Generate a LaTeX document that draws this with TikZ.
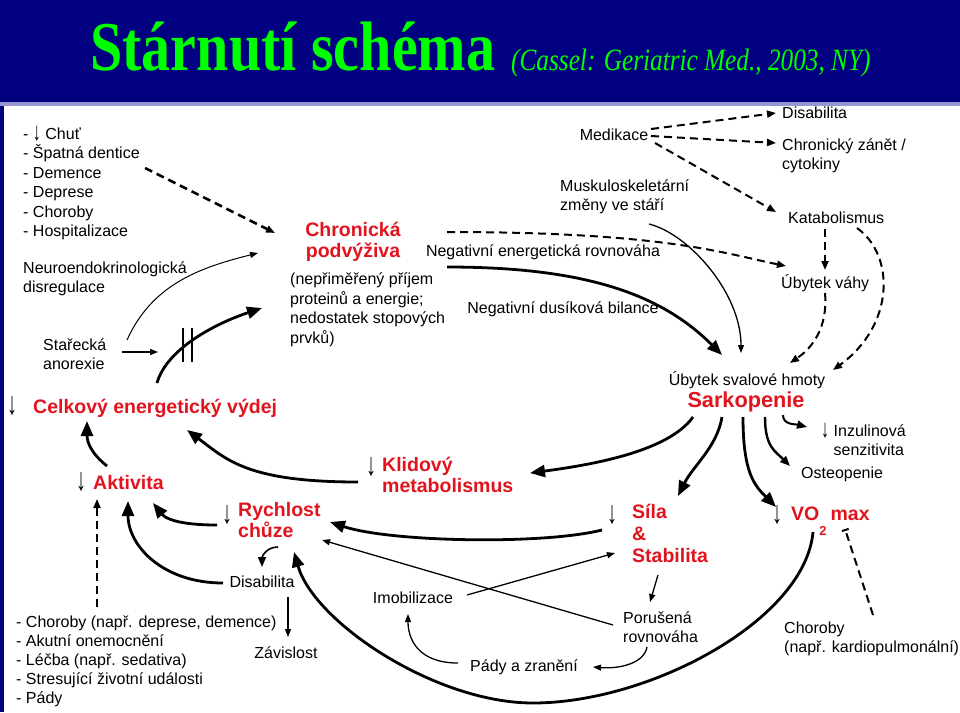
\documentclass[tikz,border=0pt]{standalone}
\usepackage{fontspec}
\setmainfont{Liberation Sans}
\newfontfamily\titlefont{Liberation Serif}
\usepackage{graphicx}
\usetikzlibrary{arrows.meta,positioning,calc}

\definecolor{barblue}{RGB}{0,0,128}
\definecolor{barline}{RGB}{150,150,210}
\definecolor{titlegreen}{RGB}{0,255,0}
\definecolor{labred}{RGB}{225,20,30}

\newcommand{\fsz}[2]{\fontsize{#1}{#2}\selectfont}
\newcommand{\darr}{\raisebox{-1pt}{\scalebox{1}[1.6]{↓}}}

\begin{document}
\begin{tikzpicture}[
  x=1pt,y=-1pt,
  txt/.style={font=\fsz{16}{19.5},inner sep=1pt,align=left},
  lab/.style={font=\bfseries\fsz{19.5}{21},text=labred,inner sep=1pt,align=left},
  dn/.style={font=\fsz{20}{20},inner sep=0pt},
  thkarr/.style={-{Triangle[length=15pt,width=12pt]},line width=2.8pt},
  medarr/.style={-{Triangle[length=10pt,width=8pt]},line width=2pt},
  thnarr/.style={-{Triangle[length=8pt,width=6pt]},line width=1.3pt},
  dasharr/.style={-{Triangle[length=9pt,width=7pt]},line width=2pt,dash pattern=on 8pt off 5pt}
]
\useasboundingbox (0,0) rectangle (960,712);
% frame and title bar
\fill[barblue] (0,0) rectangle (960,712);
\fill[barline] (0,102) rectangle (960,106);
\fill[white] (4,106) rectangle (960,712);
\node[anchor=base west,inner sep=0pt,text=titlegreen] (title) at (90,70)
  {\titlefont\bfseries\fsz{70}{70}\scalebox{0.83}[1]{Stárnutí schéma}};
\node[anchor=base west,inner sep=0pt,text=titlegreen] (cite) at (511,70)
  {\titlefont\itshape\fsz{31}{31}\scalebox{0.815}[1]{(Cassel: Geriatric Med., 2003, NY)}};

% left column
\node[txt,anchor=west] (causes) at (22,183) {- \darr\ Chuť\\- Špatná dentice\\- Demence\\- Deprese\\- Choroby\\- Hospitalizace};
\node[txt,anchor=west] (neuro) at (22,279) {Neuroendokrinologická\\disregulace};
\node[txt,anchor=west] (anorex) at (42,354) {Stařecká\\anorexie};
\node[inner sep=0pt,minimum width=9pt,minimum height=33pt] (brk) at (187.5,345) {};
\node[lab,anchor=base west] (celk) at (32,413) {Celkový energetický výdej};
\node[dn] (celkdn) at (12,406) {\darr};
\node[lab,anchor=base west] (akt) at (92,489) {Aktivita};
\node[dn] (aktdn) at (81,482) {\darr};
\node[lab,anchor=west] (rych) at (237,520) {Rychlost\\chůze};
\node[dn] (rychdn) at (227,515) {\darr};
\node[txt,anchor=base] (disab) at (262,587) {Disabilita};
\node[txt,anchor=base] (zavis) at (286,658) {Závislost};
\node[txt,anchor=west,font=\fsz{16}{19}] (aktcauses) at (15,661) {- Choroby (např. deprese, demence)\\- Akutní onemocnění\\- Léčba (např. sedativa)\\- Stresující životní události\\- Pády};

% centre
\node[lab,align=center] (podv) at (353,242) {Chronická\\podvýživa};
\node[txt,anchor=west] (pdesc) at (289,310) {(nepřiměřený příjem\\proteinů a energie;\\nedostatek stopových\\prvků)};
\node[txt,anchor=base] (negen) at (543,256) {Negativní energetická rovnováha};
\node[txt,anchor=base] (negdus) at (563,313) {Negativní dusíková bilance};
\node[lab,anchor=west] (klid) at (381,475) {Klidový\\metabolismus};
\node[dn] (kliddn) at (371,467) {\darr};
\node[txt,anchor=base] (imob) at (413,603) {Imobilizace};
\node[txt,anchor=base] (pady) at (524,671) {Pády a zranění};
\node[lab,anchor=west,font=\bfseries\fsz{19.5}{22}] (sila) at (631,533) {Síla\\\&\\Stabilita};
\node[dn] (siladn) at (612,515) {\darr};
\node[txt,anchor=west] (porus) at (622,627) {Porušená\\rovnováha};

% right column
\node[txt,anchor=base] (medik) at (614,140) {Medikace};
\node[txt,anchor=base west] (disabtop) at (781,118) {Disabilita};
\node[txt,anchor=west] (zanet) at (781,156) {Chronický zánět /\\cytokiny};
\node[txt,anchor=west] (musk) at (559,197) {Muskuloskeletární\\změny ve stáří};
\node[txt,anchor=base west] (katab) at (787,223) {Katabolismus};
\node[txt,anchor=base west] (ubvah) at (780,288) {Úbytek váhy};
\node[txt,anchor=base] (ubsv) at (747,385) {Úbytek svalové hmoty};
\node[lab,anchor=base,font=\bfseries\fsz{21.7}{22}] (sark) at (746,407) {Sarkopenie};
\node[txt,anchor=west,font=\fsz{16}{18.5}] (inzul) at (820,440) {\darr\ Inzulinová\\\phantom{\darr\ }senzitivita};
\node[txt,anchor=base west] (osteo) at (800,478) {Osteopenie};
\node[lab,anchor=base west] (vo2) at (790,520) {VO\raisebox{-15pt}{\fsz{13}{13}2}\hspace{4pt}max};
\node[dn] (vo2dn) at (777,515) {\darr};
\node[txt,anchor=west] (chvo) at (783,639) {Choroby\\(např. kardiopulmonální)};

% malnutrition loop
\draw[dasharr,line width=2.5pt] ([shift={(123,-15)}]causes.west) -- ([shift={(-78,-9)}]podv.center);
\draw[thnarr,line width=1pt] ([shift={(85,-14)}]anorex.west) .. controls +(25,-55) and +(-60,15) .. ([shift={(-31,-57)}]pdesc.west);
\draw[thnarr] ([shift={(80,-2)}]anorex.west) -- ([shift={(-29.5,7)}]brk.center);
\draw[line width=2.5pt] (brk.north west) -- (brk.south west) (brk.north east) -- (brk.south east);
\draw[thkarr] ([shift={(125,-30)}]celk.base west) .. controls +(10,-35) and +(-45,15) .. ([shift={(-27,-2)}]pdesc.west);
\draw[dasharr] ([shift={(94,-10)}]podv.center) .. controls +(220,0) and +(-60,-12) .. ([shift={(6,-22)}]ubvah.base west);
\draw[thkarr] ([shift={(158,-43)}]pdesc.west) .. controls +(140,0) and +(-60,-60) .. ([shift={(-25,-30)}]ubsv.base);
\draw[thnarr] ([shift={(90,27)}]musk.west) .. controls +(40,10) and +(0,-60) .. ([shift={(-6,-32)}]ubsv.base);

% medication branch
\draw[dasharr] ([shift={(37,-11)}]medik.base) -- ([shift={(-5,-5)}]disabtop.base west);
\draw[dasharr] ([shift={(37,-4)}]medik.base) -- ([shift={(-5,-13)}]zanet.west);
\draw[dasharr] ([shift={(41,3)}]medik.base) -- ([shift={(-11,-11)}]katab.base west);
\draw[dasharr] ([shift={(38,6)}]katab.base west) -- ([shift={(45,-18)}]ubvah.base west);
\draw[dasharr] ([shift={(45,5)}]ubvah.base west) .. controls +(3,35) and +(22,-15) .. ([shift={(43,-22)}]ubsv.base);
\draw[dasharr] ([shift={(70,5)}]katab.base west) .. controls +(38,27) and +(62,-45) .. ([shift={(86,-15)}]ubsv.base);

% sarcopenia outputs
\draw[medarr] ([shift={(37,8)}]sark.base) .. controls +(0,10) and +(-12,-3) .. ([shift={(-13,-13)}]inzul.west);
\draw[medarr,line width=2.4pt] ([shift={(19,10)}]sark.base) .. controls +(0,30) and +(-15,-15) .. ([shift={(-10,-12)}]osteo.base west);
\draw[thkarr] ([shift={(-3,10)}]sark.base) .. controls +(0,55) and +(-22,-22) .. ([shift={(-14,-13)}]vo2.base west);
\draw[thkarr] ([shift={(-24,10)}]sark.base) .. controls +(-5,30) and +(15,-30) .. ([shift={(47,-37)}]sila.west);
\draw[thkarr] ([shift={(-53,10)}]sark.base) .. controls +(-25,35) and +(60,-8) .. ([shift={(149,-2)}]klid.west);

% energy expenditure and activity
\draw[thkarr] ([shift={(-23,7)}]klid.west) .. controls +(-110,0) and +(40,30) .. ([shift={(155,17)}]celk.base west);
\draw[thkarr] ([shift={(15,-23)}]akt.base west) .. controls +(-15,-12) and +(0,22) .. ([shift={(55,8)}]celk.base west);
\draw[thkarr] ([shift={(-20,5)}]rych.west) .. controls +(-40,0) and +(12,15) .. ([shift={(61,14)}]akt.base west);
\draw[thkarr] ([shift={(-39,-4)}]disab.base) .. controls +(-60,0) and +(0,45) .. ([shift={(36,12)}]akt.base west);
\draw[medarr,line width=1.6pt] ([shift={(41,27)}]rych.west) .. controls +(-12,0) and +(0,-10) .. ([shift={(0,-20)}]disab.base);
\draw[thnarr] ([shift={(26,10)}]disab.base) -- ([shift={(2,-21)}]zavis.base);
\draw[dasharr] ([shift={(82,-54)}]aktcauses.west) -- ([shift={(5,10)}]akt.base west);

% strength, balance, falls
\draw[thkarr] ([shift={(-29,-3)}]sila.west) .. controls +(-60,15) and +(60,20) .. ([shift={(93,2)}]rych.west);
\draw[thnarr] ([shift={(-9,-2)}]porus.west) -- ([shift={(85,20)}]rych.west);
\draw[thnarr] ([shift={(54,-8)}]imob.base) -- ([shift={(-16,20)}]sila.west);
\draw[thnarr] ([shift={(27,42)}]sila.west) -- ([shift={(28,-25)}]porus.west);
\draw[thnarr] ([shift={(25,20)}]porus.west) .. controls +(-3,17) and +(25,2) .. ([shift={(69,-4)}]pady.base);
\draw[thnarr] ([shift={(-66,-8)}]pady.base) .. controls +(-40,0) and +(0,25) .. ([shift={(-5,11)}]imob.base);
\draw[thkarr] ([shift={(23,12)}]vo2.base west) .. controls +(-8,88) and +(117,0) .. ([shift={(9,32)}]pady.base)
  .. controls +(-98,0) and +(20,70) .. ([shift={(57,32)}]rych.west);
\draw[line width=2pt,dash pattern=on 8pt off 5pt,-{Bar[width=7pt,line width=2pt]}] ([shift={(90,-24)}]chvo.west) -- ([shift={(55,9)}]vo2.base west);
\end{tikzpicture}
\end{document}
